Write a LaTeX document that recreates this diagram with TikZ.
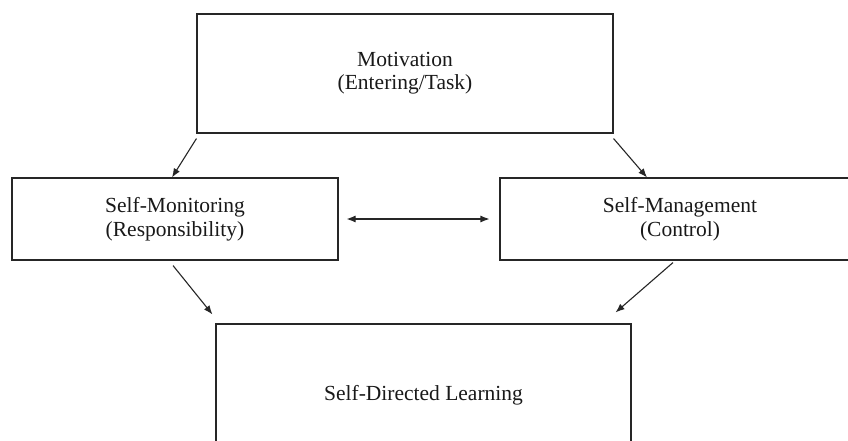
\documentclass[tikz,border=0pt]{standalone}
\usepackage{fontspec}
\setmainfont{Liberation Serif}
\usetikzlibrary{arrows.meta}
\begin{document}
\begin{tikzpicture}[x=1pt,y=-1pt,
  box/.style={draw=black!85, line width=1.1pt, rectangle, inner sep=0pt, align=center,
    font=\fontsize{21.5}{23.5}\selectfont, text=black!90},
  arr/.style={draw=black!85, line width=1.1pt, -{Latex[length=9pt,width=7pt]}},
  darr/.style={draw=black!85, line width=1.1pt, {Latex[length=9pt,width=7pt]}-{Latex[length=9pt,width=7pt]}}]
\clip (0,0) rectangle (848,441);
\fill[white] (0,0) rectangle (848,441);
\node[box, minimum width=416pt, minimum height=119pt] (mot) at (405,73.5)
  {\raisebox{4pt}{\begin{tabular}{c}Motivation\\(Entering/Task)\end{tabular}}};
\node[box, minimum width=326pt, minimum height=82pt] (mon) at (175,219)
  {Self-Monitoring\\(Responsibility)};
\node[box, minimum width=360pt, minimum height=82pt] (man) at (680,219)
  {Self-Management\\(Control)};
\node[box, minimum width=415pt, minimum height=142pt] (sdl) at (423.5,395)
  {Self-Directed Learning};
\draw[arr] ([yshift=-5pt]mot.south west) -- ([xshift=-3pt]mon.north);
\draw[arr] ([yshift=-5pt]mot.south east) -- ([xshift=-33pt]man.north);
\draw[darr] ([xshift=8pt]mon.east) -- ([xshift=-10pt]man.west);
\draw[arr] ([shift={(-2pt,-5pt)}]mon.south) -- ([shift={(-3pt,9pt)}]sdl.north west);
\draw[arr] ([shift={(-7pt,-2pt)}]man.south) -- ([shift={(-16pt,11pt)}]sdl.north east);
\end{tikzpicture}
\end{document}
